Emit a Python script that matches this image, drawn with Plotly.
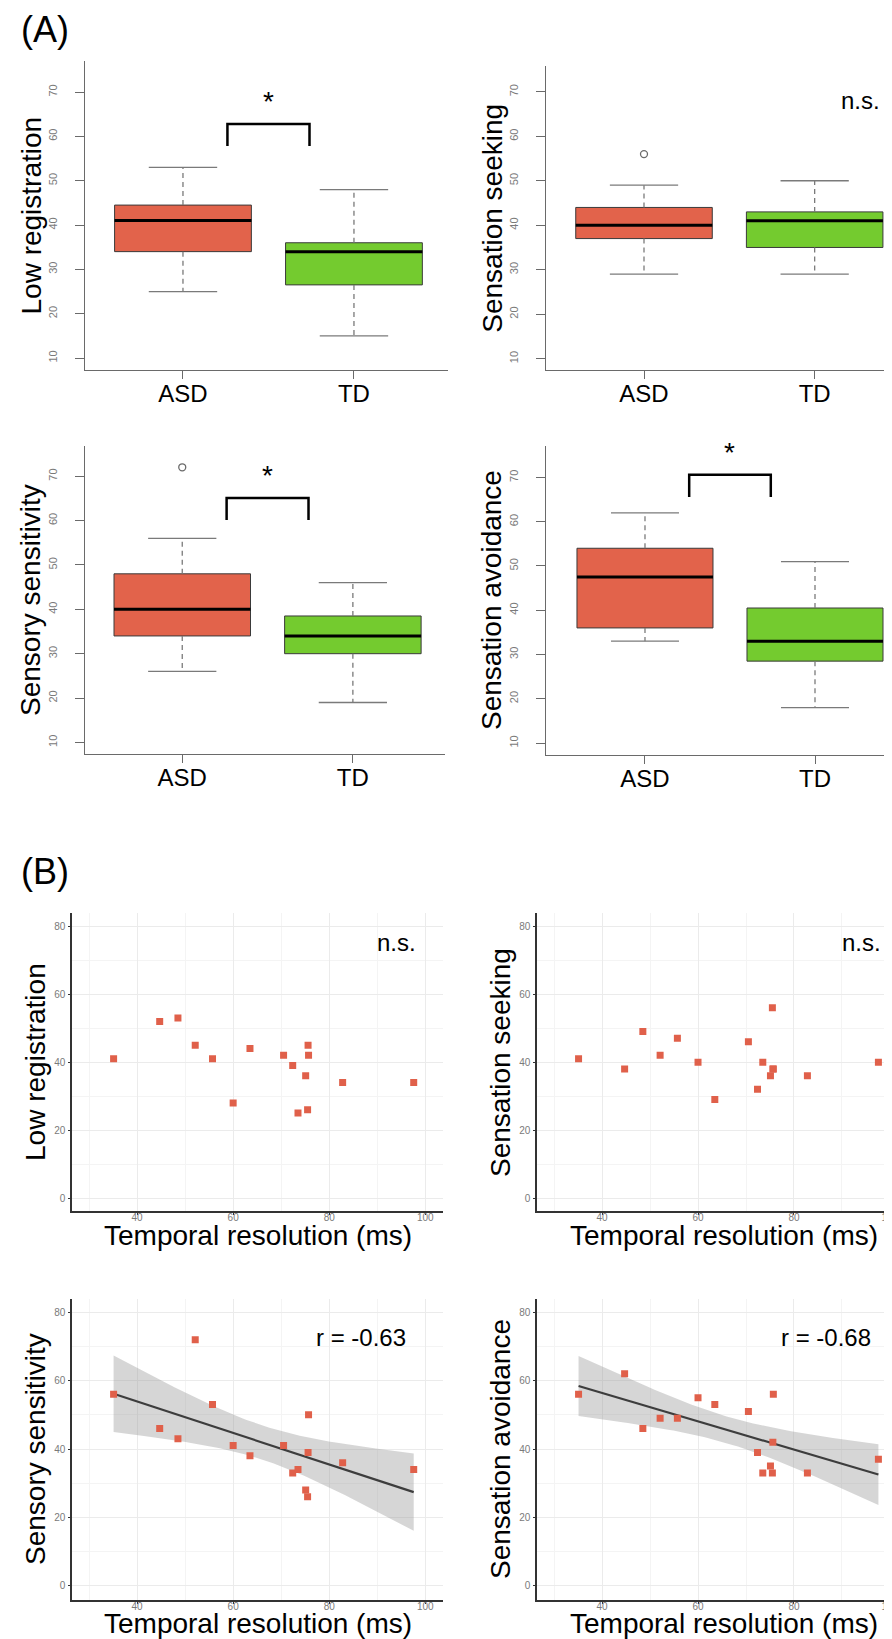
import numpy as np
import plotly.graph_objects as go

W, H = 892, 1639
FONT = "Liberation Sans, Arial, Helvetica, sans-serif"
ASD_FILL = "#E2634B"
TD_FILL = "#74CB2F"
POINT_COLOR = "#E0604A"

# (A) box plot summaries, one entry per scale
box_titles = ["Low registration", "Sensation seeking", "Sensory sensitivity", "Sensation avoidance"]
groups = ["ASD", "TD"]
asd_lower = [25, 29, 26, 33]
asd_q1 = [34, 37, 34, 36]
asd_median = [41, 40, 40, 47.5]
asd_q3 = [44.5, 44, 48, 54]
asd_upper = [53, 49, 56, 62]
asd_outliers = [[], [56], [72], []]
td_lower = [15, 29, 19, 18]
td_q1 = [26.5, 35, 30, 28.5]
td_median = [34, 41, 34, 33]
td_q3 = [36, 43, 38.5, 40.5]
td_upper = [48, 50, 46, 51]
td_outliers = [[], [], [], []]
box_marks = ["*", "n.s.", "*", "*"]
bracket_top = [62.8, None, 65.1, 70.6]
box_yticks = [10, 20, 30, 40, 50, 60, 70]

# (B) ASD participants: temporal resolution vs sensory profile scores
temporal_resolution = [35.1, 44.7, 48.5, 52.1, 55.7, 60.0, 63.5, 70.5,
                       72.4, 73.5, 75.1, 75.5, 75.6, 75.7, 82.8, 97.6]
low_registration = [41, 52, 53, 45, 41, 28, 44, 42, 39, 25, 36, 26, 45, 42, 34, 34]
sensation_seeking = [41, 38, 49, 42, 47, 40, 29, 46, 32, 40, 36, 56, 38, 38, 36, 40]
sensory_sensitivity = [56, 46, 43, 72, 53, 41, 38, 41, 33, 34, 28, 26, 39, 50, 36, 34]
sensation_avoidance = [56, 62, 46, 49, 49, 55, 53, 51, 39, 33, 35, 33, 42, 56, 33, 37]
scatter_scores = [low_registration, sensation_seeking, sensory_sensitivity, sensation_avoidance]
scatter_marks = ["n.s.", "n.s.", "r = -0.63", "r = -0.68"]
show_fit = [False, False, True, True]
T_975_DF14 = 2.1448

# panel frames in pixels: left, top, right, bottom
box_frames = [(77, 53, 440, 362), (537.7, 58, 892, 362),
              (77, 438, 437, 746), (537.7, 438, 892, 746.7)]
box_xranges = [[0.427, 2.55], [0.424, 2.5], [0.43, 2.54], [0.416, 2.5]]
box_yranges = [[7.3, 77.0], [7.45, 75.8], [7.4, 76.8], [7.36, 77.1]]
scatter_frames = [(64.3, 905, 435, 1203.3), (529.3, 905, 892, 1203.3),
                  (64.3, 1290.7, 435, 1591.7), (529.3, 1290.7, 892, 1591.7)]
scatter_xranges = [[26.5, 103.7], [26.5, 102.1], [26.5, 103.7], [26.5, 102.1]]
scatter_yranges = [[-3.9, 83.9], [-3.9, 83.9], [-4.1, 84.0], [-4.1, 84.0]]


def standoff(value):
    # negative standoffs pull labels toward the axis; fall back if not accepted
    try:
        go.layout.XAxis(ticklabelstandoff=value)
        return value
    except ValueError:
        return 0


def refs(n):
    return ("x", "y") if n == 1 else (f"x{n}", f"y{n}")


def keys(n):
    return ("xaxis", "yaxis") if n == 1 else (f"xaxis{n}", f"yaxis{n}")


def dom_x(frame):
    return [frame[0] / W, frame[2] / W]


def dom_y(frame):
    return [1 - frame[3] / H, 1 - frame[1] / H]


def text_at(x, y, text, size, xref="paper", yref="paper", **extra):
    ann = dict(x=x, y=y, xref=xref, yref=yref, text=text, showarrow=False,
               xanchor="center", yanchor="middle",
               font={"size": size, "color": "#000000"})
    ann.update(extra)
    return ann


fig = go.Figure()
layout = {}
annotations = []

for i in range(4):
    n = i + 1
    xr, yr = refs(n)
    xk, yk = keys(n)
    stats = [
        (1, asd_lower[i], asd_q1[i], asd_median[i], asd_q3[i], asd_upper[i], asd_outliers[i], ASD_FILL),
        (2, td_lower[i], td_q1[i], td_median[i], td_q3[i], td_upper[i], td_outliers[i], TD_FILL),
    ]
    for pos, lo, q1, med, q3, hi, outs, fill in stats:
        fig.add_trace(go.Scatter(
            x=[pos, pos, None, pos, pos], y=[q3, hi, None, q1, lo], mode="lines",
            line={"color": "#7a7a7a", "width": 1.3, "dash": "5px,4px"},
            xaxis=xr, yaxis=yr, hoverinfo="skip"))
        fig.add_trace(go.Scatter(
            x=[pos - 0.2, pos + 0.2, None, pos - 0.2, pos + 0.2], y=[hi, hi, None, lo, lo],
            mode="lines", line={"color": "#7a7a7a", "width": 1.3},
            xaxis=xr, yaxis=yr, hoverinfo="skip"))
        fig.add_trace(go.Bar(
            x=[pos], y=[q3 - q1], base=[q1], width=0.8,
            marker={"color": fill, "line": {"color": "#3a3a3a", "width": 1}},
            xaxis=xr, yaxis=yr, hoverinfo="skip"))
        fig.add_trace(go.Scatter(
            x=[pos - 0.4, pos + 0.4], y=[med, med], mode="lines",
            line={"color": "#000000", "width": 3}, xaxis=xr, yaxis=yr, hoverinfo="skip"))
        if outs:
            fig.add_trace(go.Scatter(
                x=[pos] * len(outs), y=outs, mode="markers",
                marker={"symbol": "circle-open", "size": 7, "color": "#6a6a6a", "line": {"width": 1.3}},
                xaxis=xr, yaxis=yr, hoverinfo="skip"))

    if bracket_top[i] is not None:
        top = bracket_top[i]
        fig.add_trace(go.Scatter(
            x=[1.26, 1.26, 1.74, 1.74], y=[top - 5, top, top, top - 5], mode="lines",
            line={"color": "#000000", "width": 2.5}, xaxis=xr, yaxis=yr, hoverinfo="skip"))
        annotations.append(text_at(1.5, top + 4.3, box_marks[i], 28, xr, yr, yshift=3))
    else:
        annotations.append(text_at(2.27, 68, box_marks[i], 24, xr, yr))

    frame = box_frames[i]
    layout[xk] = dict(
        domain=dom_x(frame), range=box_xranges[i], anchor=yr,
        tickvals=[1, 2], ticktext=groups, ticks="outside", ticklen=8, tickcolor="#6a6a6a",
        tickwidth=1.3, ticklabelstandoff=standoff(-6), tickfont={"size": 24, "color": "#000000"},
        showline=True, linecolor="#6a6a6a", linewidth=1.3, showgrid=False, zeroline=False)
    layout[yk] = dict(
        domain=dom_y(frame), range=box_yranges[i], anchor=xr,
        tickvals=box_yticks, ticks="outside", ticklen=9, tickcolor="#6a6a6a", tickwidth=1.3,
        tickangle=-90, tickfont={"size": 11, "color": "#7a7a7a"}, ticklabelstandoff=13,
        showline=True, linecolor="#6a6a6a", linewidth=1.3, showgrid=False, zeroline=False)
    annotations.append(text_at(frame[0] - 54, (frame[1] + frame[3]) / 2, box_titles[i], 28,
                               textangle=-90))

x_data = np.array(temporal_resolution, dtype=float)
for i in range(4):
    n = i + 5
    xr, yr = refs(n)
    xk, yk = keys(n)
    y_data = np.array(scatter_scores[i], dtype=float)

    if show_fit[i]:
        slope, intercept = np.polyfit(x_data, y_data, 1)
        resid = y_data - (slope * x_data + intercept)
        s = np.sqrt(np.sum(resid ** 2) / (len(x_data) - 2))
        sxx = np.sum((x_data - x_data.mean()) ** 2)
        grid = np.linspace(x_data.min(), x_data.max(), 80)
        fit = slope * grid + intercept
        se = s * np.sqrt(1 / len(x_data) + (grid - x_data.mean()) ** 2 / sxx)
        upper = fit + T_975_DF14 * se
        lower = fit - T_975_DF14 * se
        fig.add_trace(go.Scatter(
            x=np.concatenate([grid, grid[::-1]]), y=np.concatenate([upper, lower[::-1]]),
            fill="toself", fillcolor="rgba(153,153,153,0.4)", line={"width": 0},
            mode="lines", xaxis=xr, yaxis=yr, hoverinfo="skip"))
        fig.add_trace(go.Scatter(
            x=grid, y=fit, mode="lines", line={"color": "#3d3d3d", "width": 2.2},
            xaxis=xr, yaxis=yr, hoverinfo="skip"))

    fig.add_trace(go.Scatter(
        x=x_data, y=y_data, mode="markers",
        marker={"symbol": "square", "size": 7, "color": POINT_COLOR},
        xaxis=xr, yaxis=yr))

    frame = scatter_frames[i]
    grid_common = dict(showgrid=True, gridcolor="#ebebeb", gridwidth=1, zeroline=False,
                       showline=True, linecolor="#333333", linewidth=2,
                       ticks="outside", ticklen=2, tickcolor="#333333",
                       tickfont={"size": 10, "color": "#7a7a7a"})
    layout[xk] = dict(
        domain=dom_x(frame), range=scatter_xranges[i], anchor=yr,
        tick0=0, dtick=20, minor={"dtick": 10, "showgrid": True, "gridcolor": "#f4f4f4", "ticks": ""},
        ticklabelstandoff=standoff(-6), **grid_common)
    layout[yk] = dict(
        domain=dom_y(frame), range=scatter_yranges[i], anchor=xr,
        tick0=0, dtick=20, minor={"dtick": 10, "showgrid": True, "gridcolor": "#f4f4f4", "ticks": ""},
        ticklabelstandoff=1, **grid_common)

    is_fit = show_fit[i]
    annotations.append(text_at(86.6 if is_fit else 94, 72.5 if is_fit else 75.3,
                               scatter_marks[i], 24, xr, yr))
    annotations.append(text_at(frame[0] - 37.5, (frame[1] + frame[3]) / 2, box_titles[i], 28,
                               textangle=-90))
    title_x = (frame[0] + frame[2]) / 2 if frame[2] < W else 716
    annotations.append(text_at(title_x, frame[3] + 24, "Temporal resolution (ms)", 28))

for label, yc in (("(A)", 22), ("(B)", 864)):
    annotations.append(text_at(37, yc, label, 36))

# convert the pixel-positioned annotations to paper fractions
for ann in annotations:
    if ann["xref"] == "paper":
        ann["x"] = ann["x"] / W
        ann["y"] = 1 - ann["y"] / H

fig.update_layout(
    width=W, height=H,
    margin={"l": 0, "r": 0, "t": 0, "b": 0},
    paper_bgcolor="#ffffff", plot_bgcolor="#ffffff",
    font={"family": FONT},
    showlegend=False, barmode="overlay",
    annotations=annotations,
    **layout,
)

fig.write_html("out.html")
